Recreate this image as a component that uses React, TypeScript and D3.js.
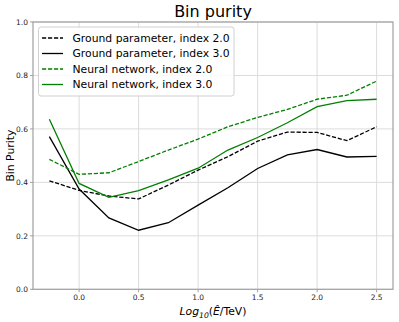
import * as d3 from 'd3';

// energy bins (log10 E/TeV)
const logE = [-0.25, 0, 0.25, 0.5, 0.75, 1.0, 1.25, 1.5, 1.75, 2.0, 2.25, 2.5];

const groundIdx2 = [0.406, 0.370, 0.349, 0.338, 0.390, 0.446, 0.496, 0.554, 0.588, 0.587, 0.556, 0.608];
const groundIdx3 = [0.571, 0.375, 0.267, 0.221, 0.249, 0.315, 0.380, 0.452, 0.503, 0.523, 0.495, 0.497];
const nnIdx2 = [0.486, 0.430, 0.436, 0.478, 0.521, 0.562, 0.608, 0.643, 0.673, 0.711, 0.726, 0.779];
const nnIdx3 = [0.636, 0.396, 0.344, 0.369, 0.409, 0.453, 0.521, 0.568, 0.623, 0.683, 0.706, 0.711];

const xTicks = [0.0, 0.5, 1.0, 1.5, 2.0, 2.5];
const yTicks = [0.0, 0.2, 0.4, 0.6, 0.8, 1.0];

const series = [
  { label: 'Ground parameter, index 2.0', values: groundIdx2, color: '#000000', dashed: true },
  { label: 'Ground parameter, index 3.0', values: groundIdx3, color: '#000000', dashed: false },
  { label: 'Neural network, index 2.0', values: nnIdx2, color: '#008000', dashed: true },
  { label: 'Neural network, index 3.0', values: nnIdx3, color: '#008000', dashed: false },
];

const W = 399;
const H = 322;
const left = 33, right = 393, top = 22, bottom = 289.3;
const font = 'DejaVu Sans, sans-serif';
const dash = '4.2,1.8';

export default function App() {
  const x = d3.scaleLinear().domain([-0.3875, 2.6375]).range([left, right]);
  const y = d3.scaleLinear().domain([0, 1]).range([bottom, top]);

  const line = d3.line<number>()
    .x((d, i) => x(logE[i]))
    .y(d => y(d));

  return (
    <svg width={W} height={H} style={{ position: 'absolute', left: 0, top: 0, background: '#fff' }}>
      <rect x={0} y={0} width={W} height={H} fill="#fff" />
      {/* grid */}
      {xTicks.map(t => (
        <line key={'gx' + t} x1={x(t)} x2={x(t)} y1={top} y2={bottom} stroke="#dcdcdc" strokeWidth={1} />
      ))}
      {yTicks.map(t => (
        <line key={'gy' + t} x1={left} x2={right} y1={y(t)} y2={y(t)} stroke="#dcdcdc" strokeWidth={1} />
      ))}

      {/* lines */}
      {series.map(s => (
        <path key={s.label} d={line(s.values) || ''} fill="none" stroke={s.color}
          strokeWidth={1.3} strokeDasharray={s.dashed ? dash : undefined} />
      ))}

      {/* frame */}
      <rect x={left} y={top} width={right - left} height={bottom - top} fill="none" stroke="#a0a0a0" strokeWidth={1.2} />

      {/* ticks */}
      {xTicks.map(t => (
        <g key={'tx' + t}>
          <line x1={x(t)} x2={x(t)} y1={bottom} y2={bottom + 3} stroke="#a0a0a0" />
          <text x={x(t)} y={bottom + 10.5} textAnchor="middle" fontFamily={font} fontSize={7.5} fill="#222">
            {d3.format('.1f')(t)}
          </text>
        </g>
      ))}
      {yTicks.map(t => (
        <g key={'ty' + t}>
          <line x1={left - 3} x2={left} y1={y(t)} y2={y(t)} stroke="#a0a0a0" />
          <text x={left - 5} y={y(t) + 2.7} textAnchor="end" fontFamily={font} fontSize={7.5} fill="#222">
            {d3.format('.1f')(t)}
          </text>
        </g>
      ))}

      {/* title */}
      <text x={(left + right) / 2} y={16.5} textAnchor="middle" fontFamily={font} fontSize={16} fill="#000">
        Bin purity
      </text>

      {/* axis labels */}
      <text x={(left + right) / 2} y={315} textAnchor="middle" fontFamily={font} fontSize={10.8} fill="#000">
        <tspan fontStyle="italic">Log</tspan>
        <tspan fontStyle="italic" fontSize={7.6} dy={2.5}>10</tspan>
        <tspan dy={-2.5}>(</tspan>
        <tspan fontStyle="italic">Ê</tspan>
        <tspan>/TeV)</tspan>
      </text>
      <text transform={`translate(13.5,${(top + bottom) / 2}) rotate(-90)`} textAnchor="middle"
        fontFamily={font} fontSize={10.8} fill="#000">
        Bin Purity
      </text>

      {/* legend */}
      <rect x={38.5} y={27} width={195.5} height={69} rx={2.5} fill="#fff" fillOpacity={0.85} stroke="#d0d0d0" strokeWidth={1} />
      {series.map((s, i) => {
        const cy = 38 + i * 15.5;
        return (
          <g key={'lg' + s.label}>
            <line x1={42} x2={63} y1={cy} y2={cy} stroke={s.color} strokeWidth={1.3}
              strokeDasharray={s.dashed ? dash : undefined} />
            <text x={72.5} y={cy + 3.8} fontFamily={font} fontSize={10.8} fill="#000">{s.label}</text>
          </g>
        );
      })}
    </svg>
  );
}
